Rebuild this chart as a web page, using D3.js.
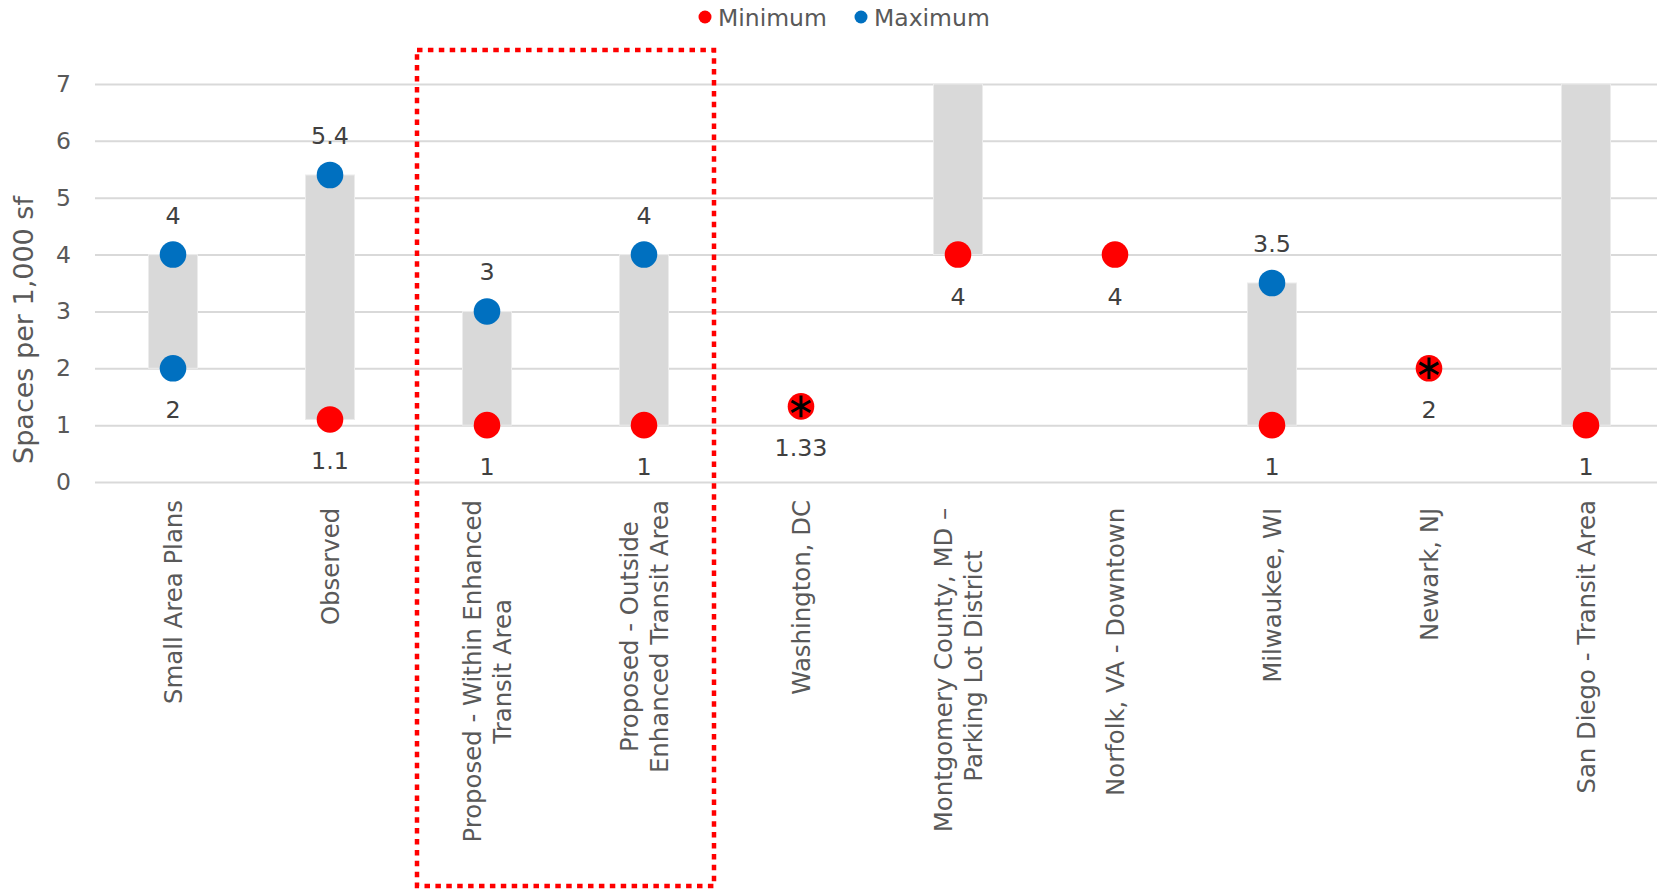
<!DOCTYPE html>
<html>
<head>
<meta charset="utf-8">
<script src="https://cdn.jsdelivr.net/npm/d3@7"></script>
<style>
  html, body { margin: 0; padding: 0; background: #fff; }
  svg { display: block; font-family: "DejaVu Sans", Verdana, sans-serif; }
</style>
</head>
<body>
<svg id="chart" width="1657" height="889"></svg>
<script>
// ---- data ----
const categories = [
  "Small Area Plans",
  "Observed ",
  "Proposed - Within Enhanced\nTransit Area",
  "Proposed - Outside\nEnhanced Transit Area",
  "Washington, DC",
  "Montgomery County, MD – \nParking Lot District",
  "Norfolk, VA - Downtown ",
  "Milwaukee, WI ",
  "Newark, NJ ",
  "San Diego - Transit Area"
];
const rangeLow  = [2, 1.1, 1, 1, null, 4, null, 1, null, 1];
const rangeHigh = [4, 5.4, 3, 4, null, 7, null, 3.5, null, 7];
const minimum   = [null, 1.1, 1, 1, 1.33, 4, 4, 1, 2, 1];
const maximum   = [4, 5.4, 3, 4, null, null, null, 3.5, null, null];
const maximumLower = [2, null, null, null, null, null, null, null, null, null];
const asteriskFlag = [false, false, false, false, true, false, false, false, true, false];
const yTicks = [0, 1, 2, 3, 4, 5, 6, 7];
const legendItems = ["Minimum", "Maximum"];
const highlightCategories = [2, 3];

// ---- layout ----
const W = 1657, H = 889;
const svg = d3.select("#chart");
const RED = "#FF0000", BLUE = "#0070C0", GRID = "#D9D9D9", TXT = "#595959", LBL = "#404040";

const x = d3.scaleBand().domain(categories).range([94.5, 1664.5]).padding(0);
const y = d3.scaleLinear().domain([0, 7]).range([482, 84]);
const cx = i => x(categories[i]) + x.bandwidth() / 2;
const barW = 49;
const dotR = 13.3;

// gridlines + y tick labels
const yAxis = d3.axisLeft(y).tickValues(yTicks).tickSize(-(W + 20 - 95)).tickPadding(24).tickFormat(d3.format("d"));
const gy = svg.append("g").attr("transform", "translate(95,0)").call(yAxis);
gy.select(".domain").remove();
gy.selectAll(".tick line").attr("stroke", GRID).attr("stroke-width", 2);
gy.selectAll(".tick text").attr("fill", TXT).style("font-size", "23.5px")
  .style("font-family", "'DejaVu Sans', Verdana, sans-serif");

// y axis title
svg.append("text")
  .attr("transform", "translate(23,330) rotate(-90)")
  .attr("text-anchor", "middle").attr("dy", "0.36em")
  .attr("fill", TXT).style("font-size", "27px")
  .text("Spaces per 1,000 sf");

// range bars
const idx = d3.range(categories.length);
svg.append("g").selectAll("rect")
  .data(idx.filter(i => rangeLow[i] != null && rangeHigh[i] != null))
  .join("rect")
  .attr("x", i => cx(i) - barW / 2)
  .attr("width", barW)
  .attr("y", i => y(rangeHigh[i]))
  .attr("height", i => y(rangeLow[i]) - y(rangeHigh[i]))
  .attr("fill", GRID)
  .attr("stroke", "#ECECEC").attr("stroke-width", 1);

// points
const pts = [];
idx.forEach(i => {
  if (maximum[i] != null) pts.push({ i, v: maximum[i], color: BLUE, pos: "above" });
  if (maximumLower[i] != null) pts.push({ i, v: maximumLower[i], color: BLUE, pos: "below" });
  if (minimum[i] != null) pts.push({ i, v: minimum[i], color: RED, pos: "below", star: asteriskFlag[i] });
});

const gp = svg.append("g");
gp.selectAll("circle").data(pts).join("circle")
  .attr("cx", d => cx(d.i)).attr("cy", d => y(d.v)).attr("r", dotR)
  .attr("fill", d => d.color);

const star = d3.symbol().type(d3.symbolAsterisk).size(330);
gp.selectAll("path.star").data(pts.filter(d => d.star)).join("path")
  .attr("class", "star")
  .attr("transform", d => `translate(${cx(d.i)},${y(d.v)})`)
  .attr("d", star())
  .attr("fill", "none").attr("stroke", "#000").attr("stroke-width", 3);

// data labels
svg.append("g").selectAll("text").data(pts).join("text")
  .attr("x", d => cx(d.i))
  .attr("y", d => d.pos === "above" ? y(d.v) - 31 : y(d.v) + 50)
  .attr("text-anchor", "middle")
  .attr("fill", LBL).style("font-size", "23.8px")
  .text(d => String(d.v));

// category labels (rotated, top aligned, lines centered in block)
const catTop = 500, lineH = 29.5;
const gc = svg.append("g");
categories.forEach((c, i) => {
  const lines = c.split("\n");
  const g = gc.append("g").attr("transform", `translate(${cx(i)},${catTop}) rotate(-90)`);
  const texts = lines.map((ln, k) => g.append("text")
    .attr("xml:space", "preserve").style("white-space", "pre")
    .attr("y", (k - (lines.length - 1) / 2) * lineH)
    .attr("dy", "0.36em")
    .attr("text-anchor", "middle")
    .attr("fill", TXT).style("font-size", "24.4px")
    .text(ln));
  const L = d3.max(texts, t => t.node().getComputedTextLength());
  texts.forEach(t => t.attr("x", -L / 2));
});

// highlight box
const hx0 = x(categories[highlightCategories[0]]) + 8.5;
const hx1 = x(categories[highlightCategories[highlightCategories.length - 1]]) + x.bandwidth() - 8.5;
svg.append("rect")
  .attr("x", hx0).attr("y", 50)
  .attr("width", hx1 - hx0).attr("height", 836)
  .attr("fill", "none").attr("stroke", RED).attr("stroke-width", 4.5)
  .attr("stroke-dasharray", "5.5,5.4");

// legend
const legendColor = d3.scaleOrdinal().domain(legendItems).range([RED, BLUE]);
const legendX = [705, 861];
const gl = svg.append("g");
legendItems.forEach((name, k) => {
  gl.append("circle").attr("cx", legendX[k]).attr("cy", 17).attr("r", 6.5).attr("fill", legendColor(name));
  gl.append("text").attr("x", legendX[k] + 13).attr("y", 26)
    .attr("fill", TXT).style("font-size", "23.5px").text(name);
});
</script>
</body>
</html>
